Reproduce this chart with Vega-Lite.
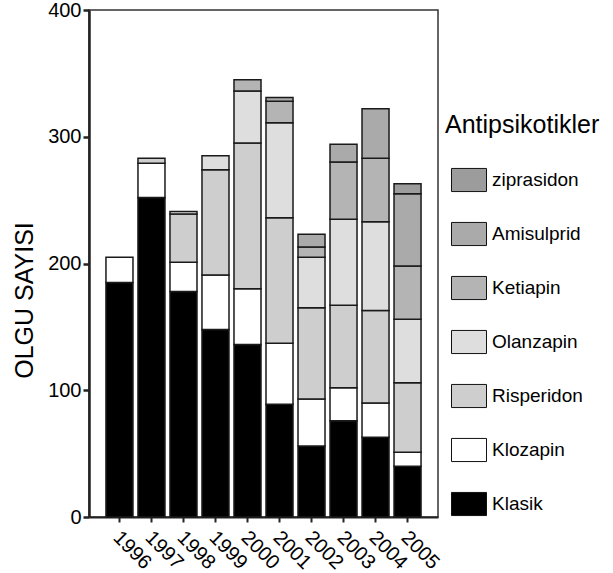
{
  "$schema": "https://vega.github.io/schema/vega-lite/v6.json",
  "width": 349,
  "height": 507,
  "autosize": "none",
  "padding": {"left": 89, "top": 10, "right": 175, "bottom": 56},
  "background": "white",
  "config": {
    "font": "Liberation Sans",
    "view": {"stroke": "#333", "strokeWidth": 1.5},
    "axis": {"labelColor": "black", "titleColor": "black", "domainColor": "#222", "tickColor": "#222", "grid": false}
  },
  "data": {"values": [
    {"year": "1996", "drug": "Klasik", "count": 185},
    {"year": "1996", "drug": "Klozapin", "count": 20},
    {"year": "1997", "drug": "Klasik", "count": 252},
    {"year": "1997", "drug": "Klozapin", "count": 27},
    {"year": "1997", "drug": "Risperidon", "count": 4},
    {"year": "1998", "drug": "Klasik", "count": 178},
    {"year": "1998", "drug": "Klozapin", "count": 23},
    {"year": "1998", "drug": "Risperidon", "count": 38},
    {"year": "1998", "drug": "Olanzapin", "count": 2},
    {"year": "1999", "drug": "Klasik", "count": 148},
    {"year": "1999", "drug": "Klozapin", "count": 43},
    {"year": "1999", "drug": "Risperidon", "count": 83},
    {"year": "1999", "drug": "Olanzapin", "count": 11},
    {"year": "2000", "drug": "Klasik", "count": 136},
    {"year": "2000", "drug": "Klozapin", "count": 44},
    {"year": "2000", "drug": "Risperidon", "count": 115},
    {"year": "2000", "drug": "Olanzapin", "count": 41},
    {"year": "2000", "drug": "Ketiapin", "count": 9},
    {"year": "2001", "drug": "Klasik", "count": 89},
    {"year": "2001", "drug": "Klozapin", "count": 48},
    {"year": "2001", "drug": "Risperidon", "count": 99},
    {"year": "2001", "drug": "Olanzapin", "count": 75},
    {"year": "2001", "drug": "Ketiapin", "count": 17},
    {"year": "2001", "drug": "Amisulprid", "count": 3},
    {"year": "2002", "drug": "Klasik", "count": 56},
    {"year": "2002", "drug": "Klozapin", "count": 37},
    {"year": "2002", "drug": "Risperidon", "count": 72},
    {"year": "2002", "drug": "Olanzapin", "count": 40},
    {"year": "2002", "drug": "Ketiapin", "count": 8},
    {"year": "2002", "drug": "Amisulprid", "count": 10},
    {"year": "2003", "drug": "Klasik", "count": 76},
    {"year": "2003", "drug": "Klozapin", "count": 26},
    {"year": "2003", "drug": "Risperidon", "count": 65},
    {"year": "2003", "drug": "Olanzapin", "count": 68},
    {"year": "2003", "drug": "Ketiapin", "count": 45},
    {"year": "2003", "drug": "Amisulprid", "count": 14},
    {"year": "2004", "drug": "Klasik", "count": 63},
    {"year": "2004", "drug": "Klozapin", "count": 27},
    {"year": "2004", "drug": "Risperidon", "count": 73},
    {"year": "2004", "drug": "Olanzapin", "count": 70},
    {"year": "2004", "drug": "Ketiapin", "count": 50},
    {"year": "2004", "drug": "Amisulprid", "count": 39},
    {"year": "2005", "drug": "Klasik", "count": 40},
    {"year": "2005", "drug": "Klozapin", "count": 11},
    {"year": "2005", "drug": "Risperidon", "count": 55},
    {"year": "2005", "drug": "Olanzapin", "count": 50},
    {"year": "2005", "drug": "Ketiapin", "count": 42},
    {"year": "2005", "drug": "Amisulprid", "count": 57},
    {"year": "2005", "drug": "ziprasidon", "count": 8}
  ]},
  "transform": [
    {"calculate": "indexof(['Klasik','Klozapin','Risperidon','Olanzapin','Ketiapin','Amisulprid','ziprasidon'], datum.drug)", "as": "stackOrder"}
  ],
  "mark": {"type": "bar", "stroke": "#1a1a1a", "strokeWidth": 1.5},
  "encoding": {
    "x": {
      "field": "year", "type": "nominal",
      "scale": {"paddingInner": 0.156, "paddingOuter": 0.53},
      "axis": {"title": null, "labelAngle": 45, "labelFontSize": 20, "tickSize": 5, "tickWidth": 2, "domainWidth": 2, "labelPadding": 5, "labelOffset": 4}
    },
    "y": {
      "field": "count", "type": "quantitative", "aggregate": "sum", "stack": "zero",
      "scale": {"domain": [0, 400], "nice": false},
      "axis": {"title": "OLGU SAYISI", "values": [0, 100, 200, 300, 400], "labelFontSize": 20, "tickSize": 6, "tickWidth": 2.5, "domainWidth": 2.5, "labelPadding": 2, "titleFontSize": 25, "titleFontWeight": "normal", "titleX": -57, "titleY": 290, "titleBaseline": "alphabetic"}
    },
    "color": {
      "field": "drug", "type": "nominal",
      "scale": {
        "domain": ["ziprasidon", "Amisulprid", "Ketiapin", "Olanzapin", "Risperidon", "Klozapin", "Klasik"],
        "range": ["#9c9c9c", "#aaaaaa", "#b4b4b4", "#dedede", "#cecece", "#ffffff", "#000000"]
      },
      "legend": {
        "title": "Antipsikotikler", "orient": "none", "legendX": 356, "legendY": 103, "padding": 0,
        "titleFontSize": 25, "titleFontWeight": "normal", "titleColor": "black", "titlePadding": 24,
        "labelFontSize": 19, "labelColor": "black", "labelOffset": 5,
        "symbolType": "M-1,-0.66H1V0.66H-1Z", "symbolSize": 1225, "symbolStrokeColor": "#111", "symbolStrokeWidth": 1, "symbolOffset": 6, "symbolOpacity": 1,
        "rowPadding": 22
      }
    },
    "order": {"field": "stackOrder", "type": "quantitative", "sort": "ascending"}
  }
}
